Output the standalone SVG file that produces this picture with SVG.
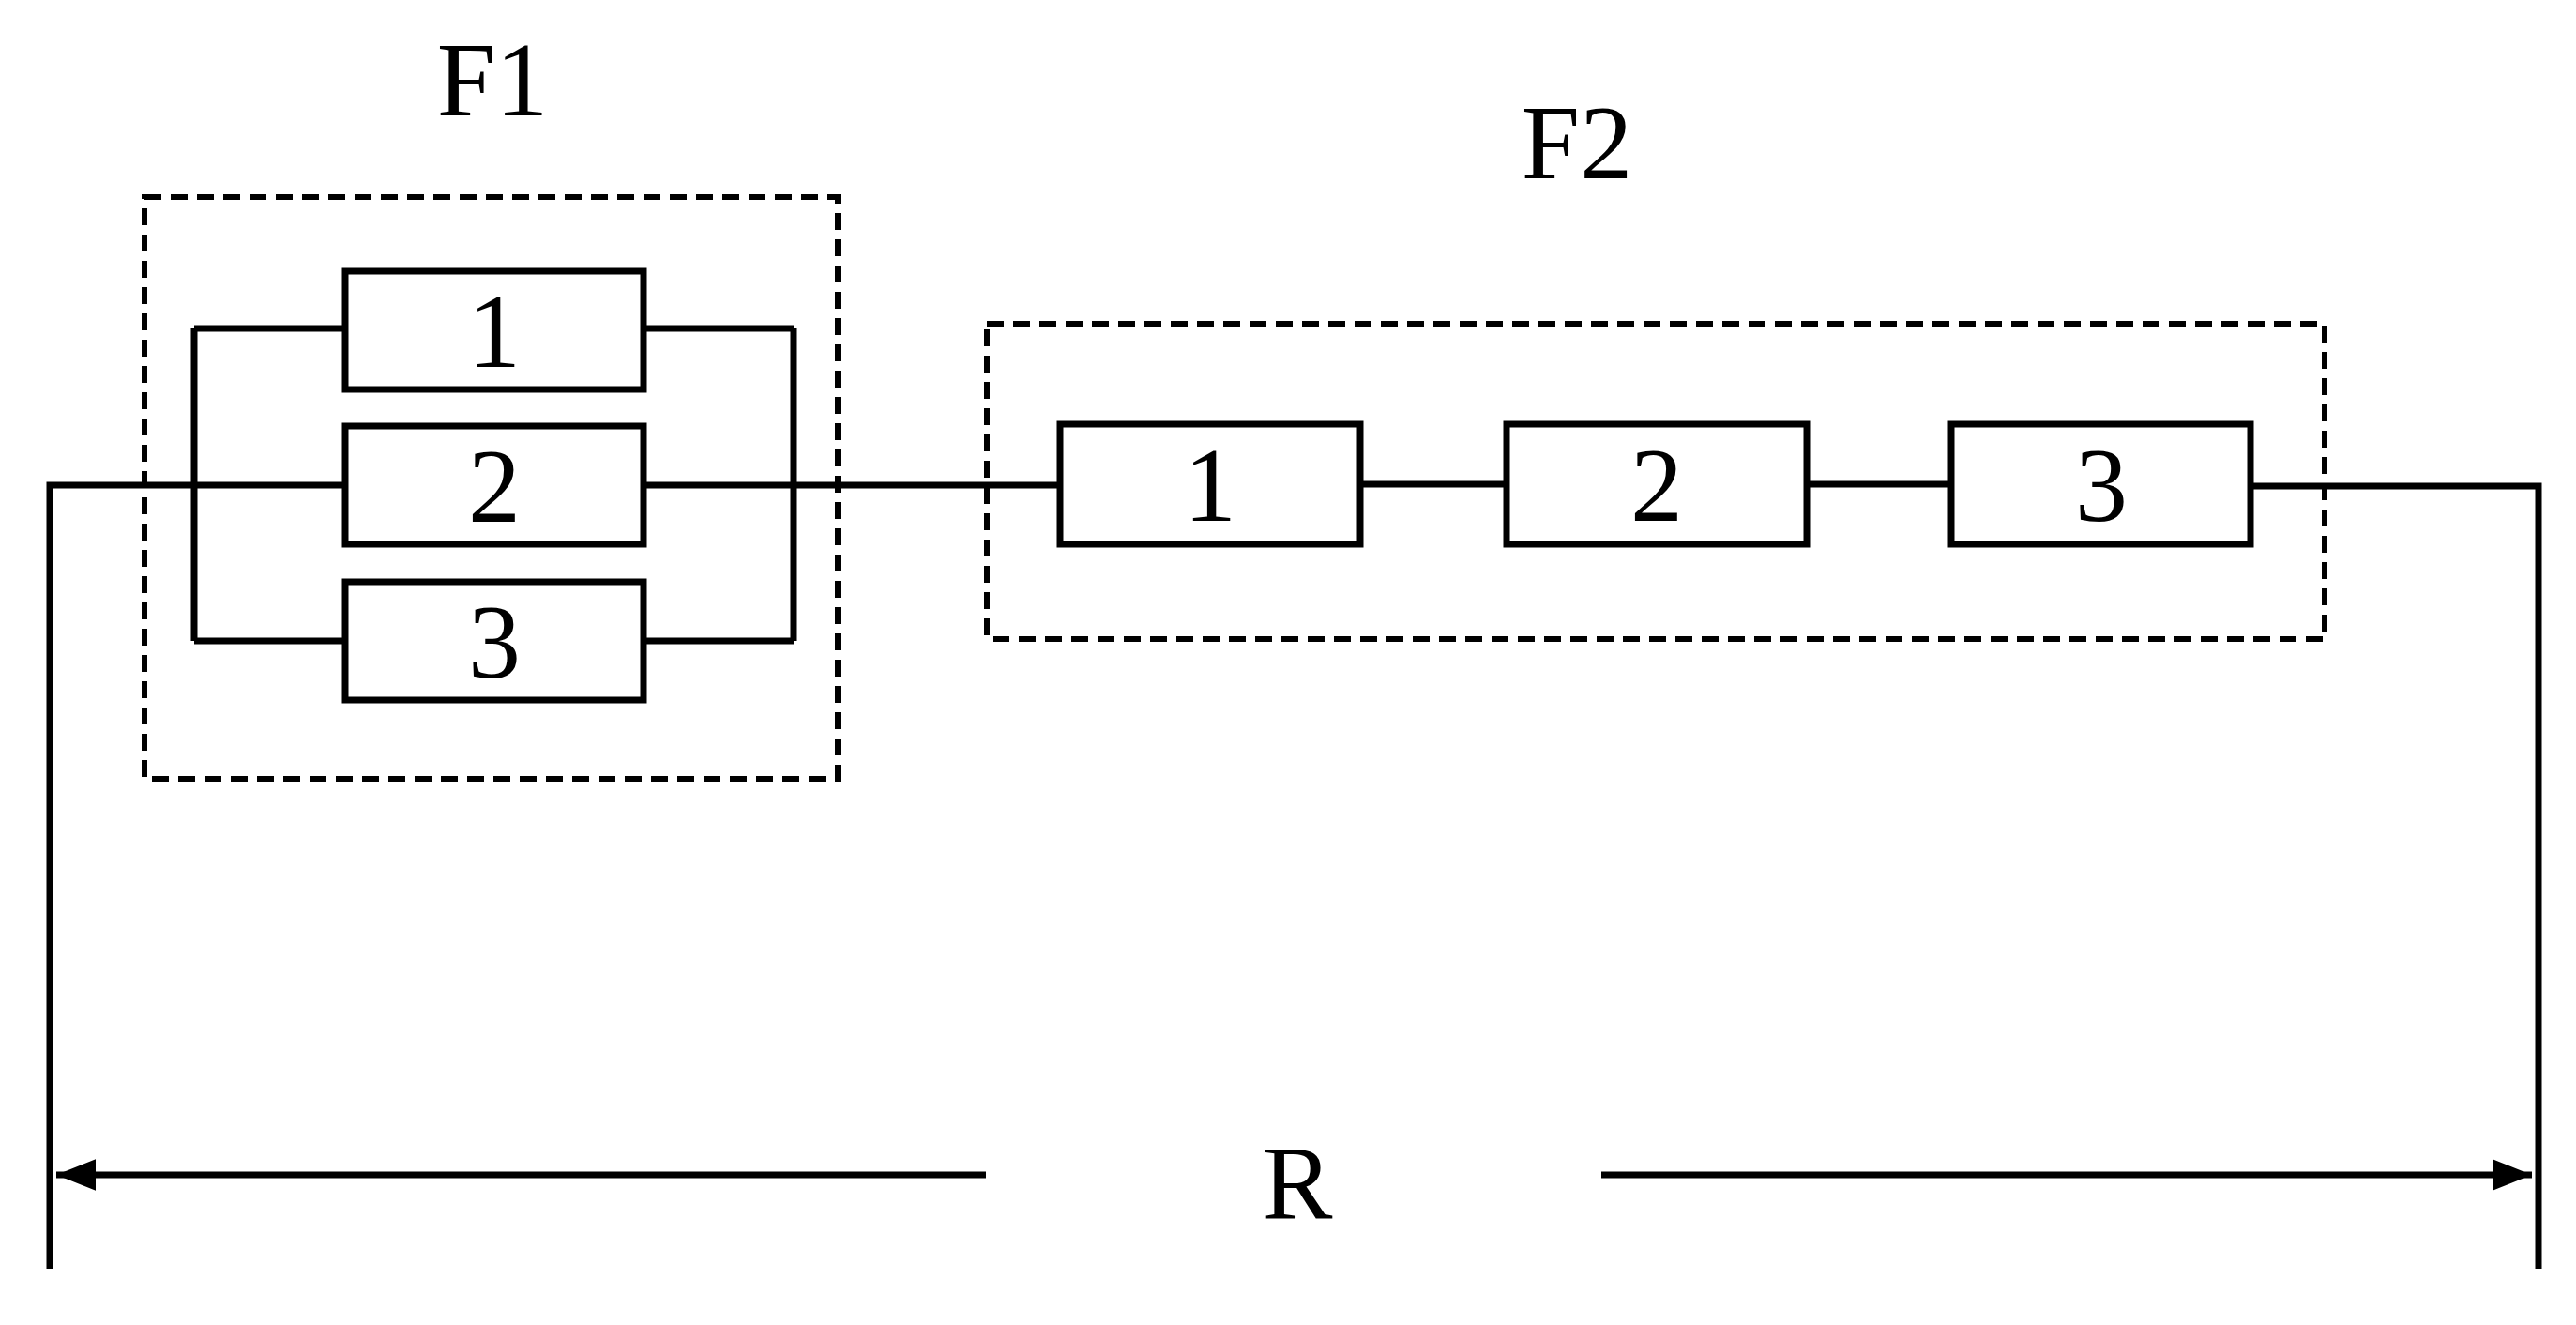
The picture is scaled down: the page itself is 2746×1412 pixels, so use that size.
<svg xmlns="http://www.w3.org/2000/svg" width="2746" height="1412" viewBox="0 0 2746 1412">
<style>
.w{stroke:#000;stroke-width:7;fill:none}
.d{stroke:#000;stroke-width:6;fill:none;stroke-dasharray:18 10}
.r{stroke:#000;stroke-width:7;fill:#fff}
text{font-family:"Liberation Serif",serif;fill:#000;text-anchor:middle}
.n{font-size:112px}
.l{font-size:112px}
</style>
<defs><marker id="a" viewBox="0 0 10 10" refX="10" refY="5" markerWidth="6" markerHeight="6" orient="auto-start-reverse" markerUnits="strokeWidth"><path d="M0,1 L10,5 L0,9 Z" fill="#000"/></marker></defs>
<rect width="2746" height="1412" fill="#fff"/>
<g id="connectors">
<path class="w" d="M53,1352 V517 H368 M686,517 H1130 M207,350 V683 M846,350 V683 M207,350 H368 M686,350 H846 M207,683 H368 M686,683 H846 M1450,516 H1606 M1926,516 H2080 M2399,518 H2706 V1352"/>
<line class="w" x1="1051" y1="1252" x2="60" y2="1252" marker-end="url(#a)"/>
<line class="w" x1="1707" y1="1252" x2="2699" y2="1252" marker-end="url(#a)"/>
</g>
<g id="F1"><rect class="d" x="154" y="210" width="739" height="620"/><text class="l" x="525" y="123">F1</text></g>
<g id="F2"><rect class="d" x="1052" y="345" width="1426" height="336"/><text class="l" x="1681" y="190">F2</text></g>
<g id="F1-1"><rect class="r" x="368" y="289" width="318" height="126"/><text class="n" x="527" y="391">1</text></g>
<g id="F1-2"><rect class="r" x="368" y="454" width="318" height="126"/><text class="n" x="527" y="556">2</text></g>
<g id="F1-3"><rect class="r" x="368" y="620" width="318" height="126"/><text class="n" x="527" y="722">3</text></g>
<g id="F2-1"><rect class="r" x="1130" y="452" width="320" height="128"/><text class="n" x="1290" y="555">1</text></g>
<g id="F2-2"><rect class="r" x="1606" y="452" width="320" height="128"/><text class="n" x="1766" y="555">2</text></g>
<g id="F2-3"><rect class="r" x="2080" y="452" width="319" height="128"/><text class="n" x="2240" y="555">3</text></g>
<g id="R"><text class="l" x="1383" y="1298">R</text></g>
</svg>
